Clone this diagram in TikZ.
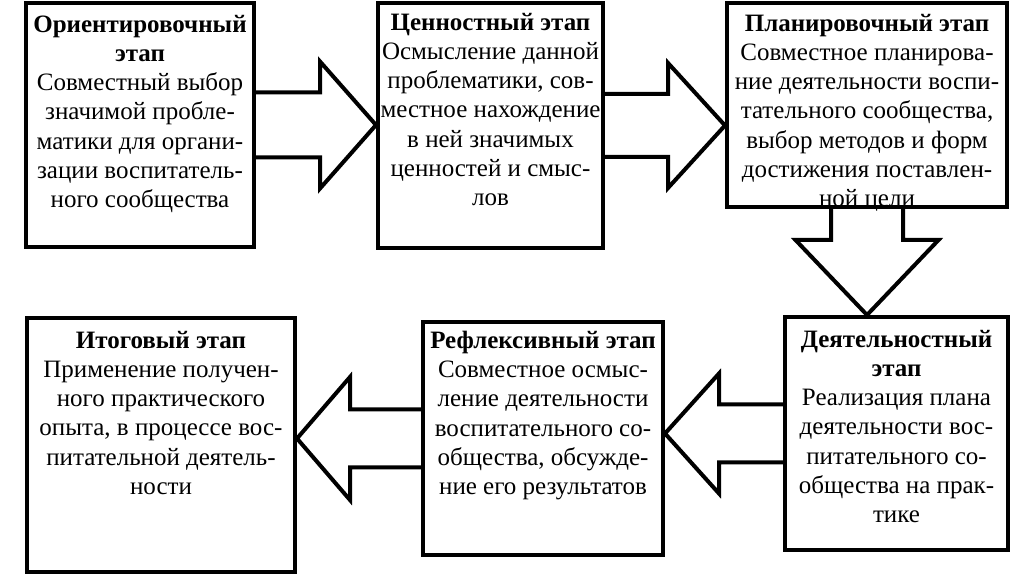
\documentclass[tikz,border=0pt]{standalone}
\usepackage{fontspec}
\setmainfont{Liberation Serif}
\usetikzlibrary{calc}
\usetikzlibrary{positioning}

\newcommand{\stagearrow}[5]{%
  \coordinate (hb) at ($(#2)!#5!(#1)$);
  \draw[bigarrow] ($(#1)!#3!90:(#2)$) -- ($(hb)!#3!90:(#2)$) -- ($(hb)!#4!90:(#2)$)
    -- (#2) -- ($(hb)!#4!-90:(#2)$) -- ($(hb)!#3!-90:(#2)$) -- ($(#1)!#3!-90:(#2)$);
}

\begin{document}
\begin{tikzpicture}[
            x=0.5pt, y=-0.5pt,
            stage/.style={
                draw,
                line width=2pt,
                fill=white,
                inner sep=0pt
            },
            stagetext/.style={
                align=center,
                inner sep=0pt,
                font=\fontsize{12.5}{14.55}\selectfont
            },
            bigarrow/.style={
                line width=2pt,
                line join=miter
            }
        ]
        \useasboundingbox (0,0) rectangle (1021,581);
        \node[stage, minimum width=114pt, minimum height=122pt] (orient) at (140,125) {};
        \node[stage, minimum width=112.5pt, minimum height=122.5pt] (value) at (490.5,125.5) {};
        \node[stage, minimum width=140pt, minimum height=102pt] (plan) at (867,105) {};
        \node[stage, minimum width=111.5pt, minimum height=116.5pt] (activ) at (896.5,433.5) {};
        \node[stage, minimum width=120pt, minimum height=116.5pt] (refl) at (543,438.5) {};
        \node[stage, minimum width=134pt, minimum height=127pt] (final) at (161,445) {};
        \coordinate (value-tip) at (value.west |- orient.east);
        \coordinate (plan-tip) at (plan.west |- value.east);
        \coordinate (activ-tip) at (plan.south |- activ.north);
        \coordinate (refl-tip) at (refl.east |- activ.west);
        \coordinate (final-tip) at (final.east |- refl.west);
        \stagearrow{orient.east}{value-tip}{16.25pt}{31.75pt}{28pt}
        \stagearrow{value.east}{plan-tip}{15.75pt}{31.25pt}{28.5pt}
        \stagearrow{plan.south}{activ-tip}{18pt}{35.75pt}{37.5pt}
        \stagearrow{activ.west}{refl-tip}{14.5pt}{30pt}{27pt}
        \stagearrow{refl.west}{final-tip}{14.5pt}{30.75pt}{26.5pt}
        \node[stagetext, below=7pt of orient.north] (orient-text) {\textbf{Ориентировочный}\\
            \textbf{этап}\\ Совместный выбор\\ значимой пробле-\\ матики для органи-\\
            зации воспитатель-\\ ного сообщества};
        \node[stagetext, below=6pt of value.north] (value-text) {\textbf{Ценностный этап}\\
            Осмысление данной\\ проблематики, сов-\\ местное нахождение\\ в ней значимых\\
            ценностей и смыс-\\ лов};
        \node[stagetext, below=6.5pt of plan.north] (plan-text) {\textbf{Планировочный этап}\\
            Совместное планирова-\\ ние деятельности воспи-\\ тательного сообщества,\\
            выбор методов и форм\\ достижения поставлен-\\ ной цели};
        \node[stagetext, below=7.5pt of activ.north] (activ-text) {\textbf{Деятельностный}\\
            \textbf{этап}\\ Реализация плана\\ деятельности вос-\\ питательного со-\\
            общества на прак-\\ тике};
        \node[stagetext, below=5.5pt of refl.north] (refl-text) {\textbf{Рефлексивный этап}\\
            Совместное осмыс-\\ ление деятельности\\ воспитательного со-\\
            общества, обсужде-\\ ние его результатов};
        \node[stagetext, below=7.5pt of final.north] (final-text) {\textbf{Итоговый этап}\\
            Применение получен-\\ ного практического\\ опыта, в процессе вос-\\
            питательной деятель-\\ ности};
        \end{tikzpicture}
\end{document}
